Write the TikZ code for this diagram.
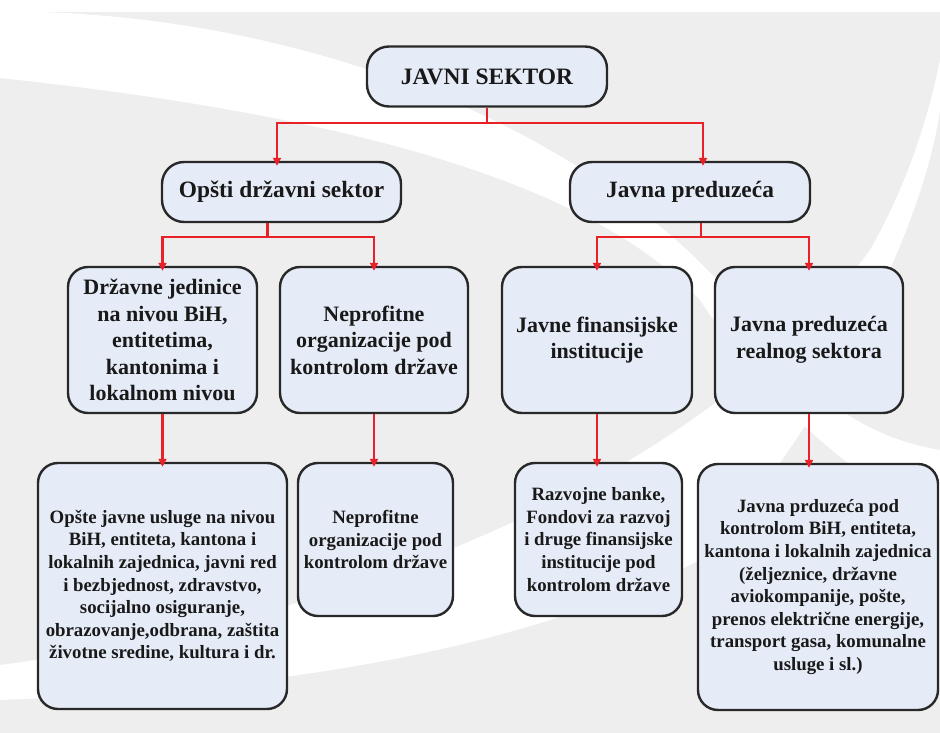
\documentclass[tikz,border=0pt]{standalone}
\usepackage{fontspec}
\setmainfont{Liberation Serif}
\usepackage{xcolor}
\usetikzlibrary{arrows.meta,positioning,calc}
\definecolor{boxfill}{RGB}{230,236,247}
\definecolor{boxline}{RGB}{40,40,40}
\definecolor{linkred}{RGB}{232,32,40}
\definecolor{bggray}{RGB}{238,238,238}
\tikzset{
  hbox/.style={draw=boxline, line width=2.4pt, fill=boxfill, align=center,
               text=black!90, inner sep=0pt},
  topbox/.style={hbox, rounded corners=22pt, minimum width=240pt, minimum height=60pt,
               font=\fontsize{23.5}{27}\selectfont\bfseries},
  secbox/.style={hbox, rounded corners=22pt, minimum height=60pt,
               font=\fontsize{23.4}{27}\selectfont\bfseries},
  unitbox/.style={hbox, rounded corners=20pt, minimum height=146pt,
               font=\fontsize{22}{26.5}\selectfont\bfseries},
  descbox/.style={hbox, rounded corners=20pt,
               font=\fontsize{18.8}{22.6}\selectfont\bfseries},
  flow/.style={-{Triangle[length=8pt,width=8pt]}, draw=linkred, line width=2.4pt,
               shorten >=-5pt},
}
\begin{document}
\begin{tikzpicture}[x=1pt, y=-1pt]
  \useasboundingbox (0,0) rectangle (940,733);
  % background swooshes
  \fill[bggray] (0,12) rectangle (940,733);
  \fill[white] (40,12) .. controls (300,20) and (600,120) .. (760,330)
    .. controls (820,410) and (880,440) .. (940,450) -- (940,520)
    .. controls (860,480) and (780,420) .. (700,300)
    .. controls (580,170) and (300,110) .. (0,78) -- (0,12) -- cycle;
  \fill[white] (0,665) .. controls (350,620) and (700,480) .. (870,250)
    .. controls (910,180) and (930,110) .. (940,60) -- (940,110)
    .. controls (920,250) and (800,460) .. (700,560)
    .. controls (500,660) and (250,690) .. (0,700) -- cycle;

  % boxes
  \node[topbox] (javni) at (487,76.5) {JAVNI SEKTOR};
  \node[secbox, minimum width=239pt] (opsti) at (281.5,192) {Opšti državni sektor};
  \node[secbox, minimum width=240pt] (pred) at (690,192) {Javna preduzeća};

  \node[unitbox, minimum width=189pt] (drzjed) at (162.5,340)
    {Državne jedinice\\ na nivou BiH,\\ entitetima,\\ kantonima i\\ lokalnom nivou};
  \node[unitbox, minimum width=188pt] (neprof) at (374,340)
    {Neprofitne\\ organizacije pod\\ kontrolom države};
  \node[unitbox, minimum width=190pt] (finins) at (597,340)
    {Javne finansijske\\ institucije};
  \node[unitbox, minimum width=188pt] (realsek) at (809,340)
    {Javna preduzeća\\ realnog sektora};

  \node[descbox, minimum width=249pt, minimum height=246pt] (usluge) at (162.5,586)
    {Opšte javne usluge na nivou\\ BiH, entiteta, kantona i\\ lokalnih zajednica, javni red\\
     i bezbjednost, zdravstvo,\\ socijalno osiguranje,\\ obrazovanje,odbrana, zaštita\\
     životne sredine, kultura i dr.};
  \node[descbox, minimum width=155pt, minimum height=153pt] (neprofk) at (375.5,539.5)
    {Neprofitne\\ organizacije pod\\ kontrolom države};
  \node[descbox, minimum width=167pt, minimum height=153pt] (banke) at (598.5,539.5)
    {Razvojne banke,\\ Fondovi za razvoj\\ i druge finansijske\\ institucije pod\\ kontrolom države};
  \node[descbox, minimum width=240pt, minimum height=246pt] (preduz) at (818,587)
    {Javna prduzeća pod\\ kontrolom BiH, entiteta,\\ kantona i lokalnih zajednica\\
     (željeznice, državne\\ aviokompanije, pošte,\\ prenos električne energije,\\
     transport gasa, komunalne\\ usluge i sl.)};

  % connectors
  \coordinate (bus1) at (0,123);
  \coordinate (bus2) at (0,237);
  \draw[flow] (javni.south) -- (javni.south |- bus1) -| ([xshift=-4.5pt]opsti.north);
  \draw[flow] (javni.south) -- (javni.south |- bus1) -| ([xshift=13pt]pred.north);
  \draw[flow] ([xshift=-14pt]opsti.south) -- ([xshift=-14pt]opsti.south |- bus2) -| (drzjed.north);
  \draw[flow] ([xshift=-14pt]opsti.south) -- ([xshift=-14pt]opsti.south |- bus2) -| (neprof.north);
  \draw[flow] ([xshift=11pt]pred.south) -- ([xshift=11pt]pred.south |- bus2) -| (finins.north);
  \draw[flow] ([xshift=11pt]pred.south) -- ([xshift=11pt]pred.south |- bus2) -| (realsek.north);
  \draw[flow] (drzjed.south) -- (drzjed.south |- usluge.north);
  \draw[flow] (neprof.south) -- (neprof.south |- neprofk.north);
  \draw[flow] (finins.south) -- (finins.south |- banke.north);
  \draw[flow] (realsek.south) -- (realsek.south |- preduz.north);
\end{tikzpicture}
\end{document}
